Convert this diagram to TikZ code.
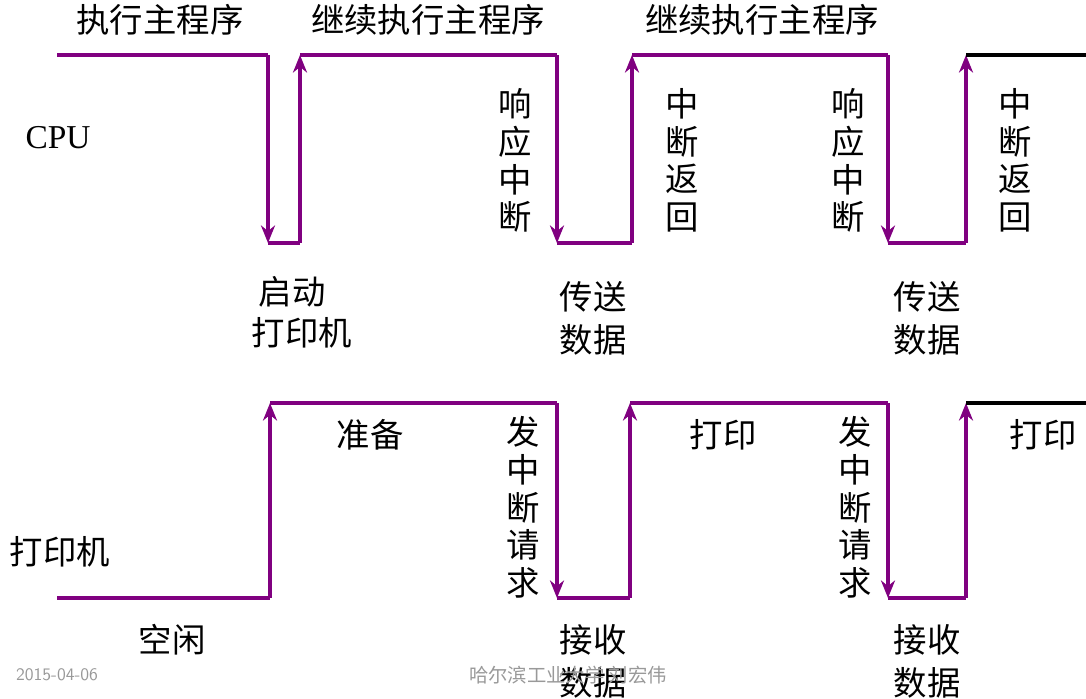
\documentclass[tikz,border=0pt]{standalone}
\usepackage{fontspec}
\setmainfont{Liberation Serif}
\newfontfamily\cjk{Noto Sans CJK SC}
\usetikzlibrary{arrows.meta}
\definecolor{pur}{RGB}{128,0,128}
\begin{document}
\begin{tikzpicture}[x=0.02cm,y=-0.02cm,
  sig/.style={pur,line width=2.3pt,line join=miter},
  arr/.style={sig,-{Stealth[length=10pt,width=8pt]}},
  tx/.style={font=\cjk\fontsize{19}{22}\selectfont,inner sep=0pt},
  vt/.style={tx,align=center,anchor=north,font=\cjk\fontsize{19}{21.5}\selectfont},
  ft/.style={font=\sffamily\fontsize{10}{12}\selectfont,text=gray!80,inner sep=0pt}]
\useasboundingbox[fill=white] (0,0) rectangle (1086,698);
% CPU
\coordinate (c0) at (57,55);
\coordinate (c1) at (268,55); \coordinate (c2) at (268,243);
\coordinate (c3) at (300,243); \coordinate (c4) at (300,55);
\coordinate (c5) at (557,55); \coordinate (c6) at (557,243);
\coordinate (c7) at (632,243); \coordinate (c8) at (632,55);
\coordinate (c9) at (888,55); \coordinate (c10) at (888,243);
\coordinate (c11) at (966,243); \coordinate (c12) at (966,55);
\coordinate (c13) at (1086,55);
\draw[sig] (c0)--(c1); \draw[arr] (c1)--(c2); \draw[sig] (c2)--(c3); \draw[arr] (c3)--(c4);
\draw[sig] (c4)--(c5); \draw[arr] (c5)--(c6); \draw[sig] (c6)--(c7); \draw[arr] (c7)--(c8);
\draw[sig] (c8)--(c9); \draw[arr] (c9)--(c10); \draw[sig] (c10)--(c11); \draw[arr] (c11)--(c12);
\draw[black,line width=2.3pt] (c12)--(c13);
% printer
\coordinate (p0) at (57,598);
\coordinate (p1) at (270,598); \coordinate (p2) at (270,403);
\coordinate (p3) at (557,403); \coordinate (p4) at (557,598);
\coordinate (p5) at (630,598); \coordinate (p6) at (630,403);
\coordinate (p7) at (888,403); \coordinate (p8) at (888,598);
\coordinate (p9) at (966,598); \coordinate (p10) at (966,403);
\coordinate (p11) at (1086,403);
\draw[sig] (p0)--(p1); \draw[arr] (p1)--(p2); \draw[sig] (p2)--(p3); \draw[arr] (p3)--(p4);
\draw[sig] (p4)--(p5); \draw[arr] (p5)--(p6); \draw[sig] (p6)--(p7); \draw[arr] (p7)--(p8);
\draw[sig] (p8)--(p9); \draw[arr] (p9)--(p10);
\draw[black,line width=2.3pt] (p10)--(p11);
% labels
\node[tx] (t1) at (160,20) {执行主程序};
\node[tx] (t2) at (428,20) {继续执行主程序};
\node[tx] (t3) at (762,20) {继续执行主程序};
\node[inner sep=0pt,font=\fontsize{19}{22}\selectfont] (cpu) at (58,138) {CPU};
\node[vt] (v1) at (515,88) {响\\应\\中\\断};
\node[vt] (v2) at (682,88) {中\\断\\返\\回};
\node[vt] (v3) at (848,88) {响\\应\\中\\断};
\node[vt] (v4) at (1015,88) {中\\断\\返\\回};
\node[tx] (a1) at (292,292) {启动};
\node[tx] (a2) at (302,333) {打印机};
\node[tx] (a3) at (593,297) {传送};
\node[tx] (a4) at (593,340) {数据};
\node[tx] (a5) at (927,297) {传送};
\node[tx] (a6) at (927,340) {数据};
\node[tx] (b1) at (370,435) {准备};
\node[vt] (v5) at (523,416) {发\\中\\断\\请\\求};
\node[tx] (b2) at (723,435) {打印};
\node[vt] (v6) at (855,416) {发\\中\\断\\请\\求};
\node[tx] (b3) at (1043,435) {打印};
\node[tx] (pr) at (60,552) {打印机};
\node[tx] (b4) at (172,640) {空闲};
\node[tx] (b5) at (593,640) {接收};
\node[tx] (b6) at (593,683) {数据};
\node[tx] (b7) at (927,640) {接收};
\node[tx] (b8) at (927,683) {数据};
\node[ft] (f1) at (57,675) {2015-04-06};
\node[ft,font=\cjk\fontsize{11}{12}\selectfont] (f2) at (568,675) {哈尔滨工业大学 刘宏伟};
\end{tikzpicture}
\end{document}
